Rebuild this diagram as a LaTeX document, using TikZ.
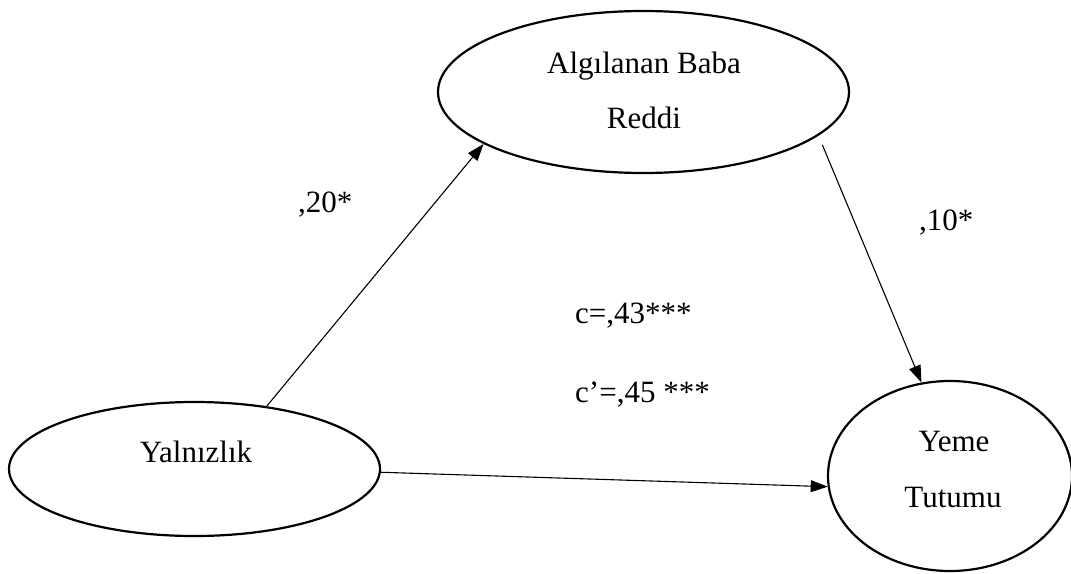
\documentclass[tikz,border=0pt]{standalone}
\usepackage{fontspec}
\setmainfont{Liberation Serif}
\usetikzlibrary{shapes.geometric,arrows.meta}
\begin{document}
\begin{tikzpicture}[x=1pt,y=-1pt,
  oval/.style={ellipse,draw,line width=2.2pt,inner sep=0pt},
  txt/.style={inner sep=0pt,font=\fontsize{31}{37}\selectfont},
  conn/.style={line width=1.1pt,-{Triangle[length=17pt,width=12pt]}}]
\useasboundingbox[fill=white] (0,0) rectangle (1071,573);
% ellipses
\node[oval,minimum width=411pt,minimum height=162pt] (T) at (643.5,92) {};
\node[oval,minimum width=371pt,minimum height=134pt] (L) at (194.5,469) {};
\node[oval,minimum width=244pt,minimum height=190pt] (R) at (950,476) {};
% ellipse texts
\node[txt,anchor=base] (T1) at (644,73) {Algılanan Baba};
\node[txt,anchor=base] (T2) at (644,128) {Reddi};
\node[txt,anchor=base] (L1) at (196,462) {Yalnızlık};
\node[txt,anchor=base] (R1) at (954,451) {Yeme};
\node[txt,anchor=base] (R2) at (953,507) {Tutumu};
% coefficient labels
\node[txt,anchor=base west] (a) at (298,212) {,20*};
\node[txt,anchor=base west] (b) at (919,230) {,10*};
\node[txt,anchor=base west] (c) at (575,323) {c=,43***};
\node[txt,anchor=base west] (cp) at (575,402) {c’=,45 ***};
% connectors
\draw[conn] (L.41) -- (T.198);
\draw[conn,shorten <=10pt] (T.346) -- (R.107);
\draw[conn] (L.359) -- (R.185);
\end{tikzpicture}
\end{document}
